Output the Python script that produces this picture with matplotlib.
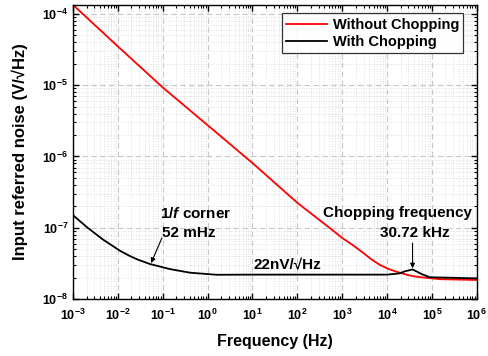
import matplotlib
matplotlib.use('Agg')
import matplotlib.pyplot as plt
from matplotlib.ticker import LogLocator, LogFormatterMathtext, NullFormatter

plt.rcParams['font.family'] = ['Liberation Sans', 'DejaVu Sans']
plt.rcParams['font.weight'] = 'bold'
plt.rcParams['mathtext.fontset'] = 'custom'
plt.rcParams['mathtext.rm'] = 'Liberation Sans:bold'
plt.rcParams['mathtext.bf'] = 'Liberation Sans:bold'
plt.rcParams['mathtext.it'] = 'Liberation Sans:italic:bold'
plt.rcParams['mathtext.default'] = 'bf'

# 잡음 스펙트럼
freq_red = [1e-3, 1e-2, 1e-1, 1, 10, 100, 5.2e2, 1e3, 1.8e3, 3e3, 4.5e3, 7e3,
            1.1e4, 2e4, 3.2e4, 5e4, 1.5e5, 1e6]
noise_red = [1.34e-4, 3.5e-5, 9.3e-6, 2.75e-6, 8.1e-7, 2.24e-7, 1.0e-7, 7.2e-8,
             5.6e-8, 4.4e-8, 3.6e-8, 3.0e-8, 2.63e-8, 2.32e-8, 2.14e-8, 2.04e-8,
             1.9e-8, 1.85e-8]

freq_black = [1e-3, 2.04e-3, 4.7e-3, 1.12e-2, 1.8e-2, 2.7e-2, 5.2e-2, 0.145, 0.41,
              1.6, 10, 100, 1e3, 1e4, 1.9e4, 2.5e4, 3.7e4, 4.5e4, 5.9e4, 9e4, 1e6]
noise_black = [1.5e-7, 1.02e-7, 6.8e-8, 4.75e-8, 4.05e-8, 3.6e-8, 3.1e-8, 2.63e-8,
               2.34e-8, 2.19e-8, 2.2e-8, 2.2e-8, 2.2e-8, 2.2e-8, 2.29e-8, 2.45e-8,
               2.6e-8, 2.45e-8, 2.24e-8, 2.02e-8, 1.95e-8]

corner_f, corner_n = 0.055, 3.2e-8
chop_f, chop_n = 3.7e4, 2.7e-8

fig = plt.figure(figsize=(4.88, 3.56), dpi=100)
ax = fig.add_axes([0.1496, 0.160, 0.8274, 0.827])

ax.plot(freq_red, noise_red, color='#ff0000', lw=1.3, label='Without Chopping')
ax.plot(freq_black, noise_black, color='black', lw=1.3, label='With Chopping')

ax.set_xscale('log')
ax.set_yscale('log')
ax.set_xlim(1e-3, 1e6)
ax.set_ylim(1e-8, 1.35e-4)

ax.xaxis.set_major_locator(LogLocator(base=10, numticks=20))
ax.xaxis.set_minor_locator(LogLocator(base=10, subs=range(2, 10), numticks=20))
ax.yaxis.set_major_locator(LogLocator(base=10, numticks=20))
ax.yaxis.set_minor_locator(LogLocator(base=10, subs=range(2, 10), numticks=20))
ax.xaxis.set_major_formatter(LogFormatterMathtext())
ax.yaxis.set_major_formatter(LogFormatterMathtext())
ax.xaxis.set_minor_formatter(NullFormatter())
ax.yaxis.set_minor_formatter(NullFormatter())

ax.tick_params(which='both', direction='in', top=True, right=True, labelsize=9)
ax.tick_params(which='major', length=4, width=1)
ax.tick_params(which='minor', length=2, width=0.8)
ax.tick_params(axis='x', pad=6)

ax.grid(True, which='major', color='#c8c8c8', ls=(0, (5, 3)), lw=0.8)
ax.grid(True, which='minor', color='#d4d4d4', ls=(0, (1, 2)), lw=0.6)
for s in ax.spines.values():
    s.set_linewidth(1.0)

ax.set_xlabel('Frequency (Hz)', fontsize=11.5, fontweight='bold', labelpad=8)
ax.set_ylabel('Input referred noise (V/\u221aHz)', fontsize=12, fontweight='bold', labelpad=10)

leg = ax.legend(loc='upper right', bbox_to_anchor=(0.985, 0.995), fontsize=10.5,
                frameon=True, fancybox=False, edgecolor='black', handlelength=2.8,
                borderpad=0.3, labelspacing=0.2, handletextpad=0.4)
leg.get_frame().set_linewidth(0.9)

ax.text(0.304, 0.292, r'1/$\mathit{f}$ corner', transform=ax.transAxes, ha='center', va='center',
        fontsize=11, fontweight='bold')
ax.text(0.287, 0.224, '52 mHz', transform=ax.transAxes, ha='center', va='center',
        fontsize=11, fontweight='bold')
ax.annotate('', xy=(corner_f, corner_n), xytext=(0.096, 7.2e-8),
            arrowprops=dict(arrowstyle='-|>', color='black', lw=0.8,
                            mutation_scale=7, shrinkA=0, shrinkB=0))
ax.text(0.532, 0.119, '22nV/\u221aHz', transform=ax.transAxes, ha='center', va='center',
        fontsize=11, fontweight='bold')
ax.text(0.804, 0.292, 'Chopping frequency', transform=ax.transAxes, ha='center', va='center',
        fontsize=11, fontweight='bold')
ax.text(0.847, 0.224, '30.72 kHz', transform=ax.transAxes, ha='center', va='center',
        fontsize=11, fontweight='bold')
ax.annotate('', xy=(chop_f, chop_n), xytext=(chop_f, 6.1e-8),
            arrowprops=dict(arrowstyle='-|>', color='black', lw=0.8,
                            mutation_scale=7, shrinkA=0, shrinkB=0))

fig.savefig('out.png', dpi=100)
